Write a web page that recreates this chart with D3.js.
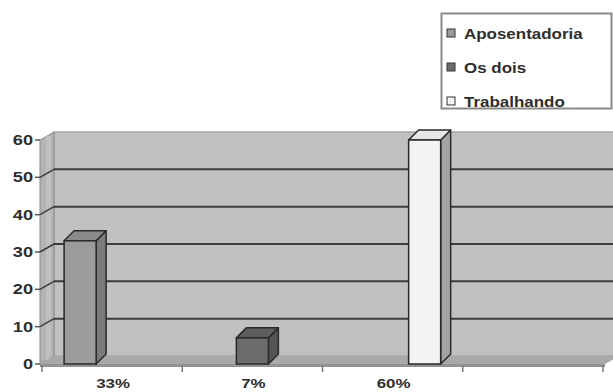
<!DOCTYPE html>
<html>
<head>
<meta charset="utf-8">
<script src="https://cdn.jsdelivr.net/npm/d3@7"></script>
<style>
  html, body { margin: 0; padding: 0; background: #ffffff; }
  svg { display: block; }
  text { font-family: "Liberation Sans", Arial, sans-serif; font-weight: bold; fill: #2e2e2e; }
</style>
</head>
<body>
<svg id="chart" width="613" height="392"></svg>
<script>
// Categories along the floor (the last slot carries no label)
const categories = ["33%", "7%", "60%", ""];
// Series names, in legend order
const seriesNames = ["Aposentadoria", "Os dois", "Trabalhando"];
// Values per series, one entry per category (null = no column)
const aposentadoria = [33, null, null, null];
const osDois = [null, 7, null, null];
const trabalhando = [null, null, 60, null];
// Value axis ticks
const yTicks = [0, 10, 20, 30, 40, 50, 60];

const seriesValues = [aposentadoria, osDois, trabalhando];
const seriesStyle = {
  "Aposentadoria": { front: "#9c9c9c", side: "#7c7c7c", top: "#8a8a8a" },
  "Os dois":       { front: "#6c6c6c", side: "#555555", top: "#5e5e5e" },
  "Trabalhando":   { front: "#f3f3f3", side: "#a4a4a4", top: "#e6e6e6" }
};

const svg = d3.select("#chart");

// Scales
const y = d3.scaleLinear().domain([0, 60]).range([364, 140]);
const x = d3.scaleBand().domain(categories).range([42, 603]);
const xs = d3.scaleBand().domain(seriesNames).range([0, x.bandwidth()])
  .paddingInner(0).paddingOuter(0.69);

// 3-D depth offsets: walls and columns
const DX = 14, DY = -8;
const BDX = 10, BDY = -10;
const wallLeft = 40, wallRight = 620;

const g = svg.append("g");

// Back wall
g.append("rect")
  .attr("x", wallLeft + DX).attr("y", y(60) + DY)
  .attr("width", wallRight - wallLeft).attr("height", y(0) - y(60))
  .attr("fill", "#c1c1c1").attr("stroke", "#a6a6a6").attr("stroke-width", 1.5);

// Side wall
g.append("polygon")
  .attr("points", [
    [wallLeft, y(0)], [wallLeft + DX, y(0) + DY],
    [wallLeft + DX, y(60) + DY], [wallLeft, y(60)]
  ].map(p => p.join(",")).join(" "))
  .attr("fill", "#b3b3b3").attr("stroke", "#8c8c8c").attr("stroke-width", 1);
g.append("rect")
  .attr("x", wallLeft + 6).attr("y", y(60) - 4)
  .attr("width", 5).attr("height", y(0) - y(60))
  .attr("fill", "#c6c6c6").attr("opacity", 0.7);

// Floor
g.append("polygon")
  .attr("points", [
    [wallLeft, y(0)], [wallLeft + DX, y(0) + DY],
    [wallRight, y(0) + DY], [605, y(0)]
  ].map(p => p.join(",")).join(" "))
  .attr("fill", "#a9a9a9");
g.append("rect")
  .attr("x", wallLeft).attr("y", y(0))
  .attr("width", 605 - wallLeft).attr("height", 3)
  .attr("fill", "#939393");

// Gridlines on back wall and side wall
const grid = yTicks.filter(t => t > 0 && t < 60);
g.selectAll("line.gridback").data(grid).enter().append("line")
  .attr("x1", wallLeft + DX).attr("x2", wallRight)
  .attr("y1", d => y(d) + DY).attr("y2", d => y(d) + DY)
  .attr("stroke", "#3c3c3c").attr("stroke-width", 2);
g.selectAll("line.gridside").data(grid).enter().append("line")
  .attr("x1", wallLeft).attr("x2", wallLeft + DX)
  .attr("y1", d => y(d)).attr("y2", d => y(d) + DY)
  .attr("stroke", "#3c3c3c").attr("stroke-width", 1.5);

// Value axis ticks and labels
g.selectAll("line.ytick").data(yTicks).enter().append("line")
  .attr("x1", wallLeft - 5).attr("x2", wallLeft)
  .attr("y1", d => y(d)).attr("y2", d => y(d))
  .attr("stroke", "#555").attr("stroke-width", 1.5);
g.selectAll("g.ylab").data(yTicks).enter().append("g")
  .attr("transform", d => `translate(33,${y(d) + 5}) scale(1.3,1)`)
  .append("text")
  .attr("text-anchor", "end")
  .style("font-size", "14px")
  .text(d => d);

// Category ticks and labels
const bounds = categories.map(c => x(c)).concat([x.range()[1]]);
g.selectAll("line.xtick").data(bounds).enter().append("line")
  .attr("x1", d => d).attr("x2", d => d)
  .attr("y1", y(0) + 1).attr("y2", y(0) + 8)
  .attr("stroke", "#777").attr("stroke-width", 1.5);
g.selectAll("g.xlab").data(categories).enter().append("g")
  .attr("transform", d => `translate(${x(d) + x.bandwidth() / 2 + 1},388) scale(1.3,1)`)
  .append("text")
  .attr("text-anchor", "middle")
  .style("font-size", "13px")
  .text(d => d);

// Columns
const bars = [];
seriesNames.forEach((s, i) => {
  seriesValues[i].forEach((v, j) => {
    if (v !== null) bars.push({ s, cat: categories[j], v });
  });
});
const pts = a => a.map(p => p.join(",")).join(" ");
const bg = g.selectAll("g.bar").data(bars).enter().append("g");
bg.each(function(d) {
  const sel = d3.select(this);
  const st = seriesStyle[d.s];
  const x0 = x(d.cat) + xs(d.s), w = xs.bandwidth();
  const yt = y(d.v), yb = y(0);
  sel.append("polygon")
    .attr("points", pts([[x0 + w, yt], [x0 + w + BDX, yt + BDY], [x0 + w + BDX, yb + BDY], [x0 + w, yb]]))
    .attr("fill", st.side).attr("stroke", "#2a2a2a").attr("stroke-width", 1.5).attr("stroke-linejoin", "round");
  sel.append("polygon")
    .attr("points", pts([[x0, yt], [x0 + BDX, yt + BDY], [x0 + w + BDX, yt + BDY], [x0 + w, yt]]))
    .attr("fill", st.top).attr("stroke", "#2a2a2a").attr("stroke-width", 1.5).attr("stroke-linejoin", "round");
  sel.append("rect")
    .attr("x", x0).attr("y", yt).attr("width", w).attr("height", yb - yt)
    .attr("fill", st.front).attr("stroke", "#2a2a2a").attr("stroke-width", 1.5);
});

// Legend
const leg = svg.append("g");
leg.append("rect")
  .attr("x", 441.5).attr("y", 13.5).attr("width", 170).attr("height", 95)
  .attr("fill", "#ffffff").attr("stroke", "#8a8a8a").attr("stroke-width", 2);
const rowY = [33, 67, 101];
const items = leg.selectAll("g.item").data(seriesNames).enter().append("g")
  .attr("transform", (d, i) => `translate(0,${rowY[i]})`);
items.append("rect")
  .attr("x", 447).attr("y", -4).attr("width", 8).attr("height", 8)
  .attr("fill", d => seriesStyle[d].front).attr("stroke", "#333").attr("stroke-width", 1);
items.append("g")
  .attr("transform", "translate(464,5.5) scale(1.13,1)")
  .append("text")
  .style("font-size", "15px")
  .text(d => d);
</script>
</body>
</html>
